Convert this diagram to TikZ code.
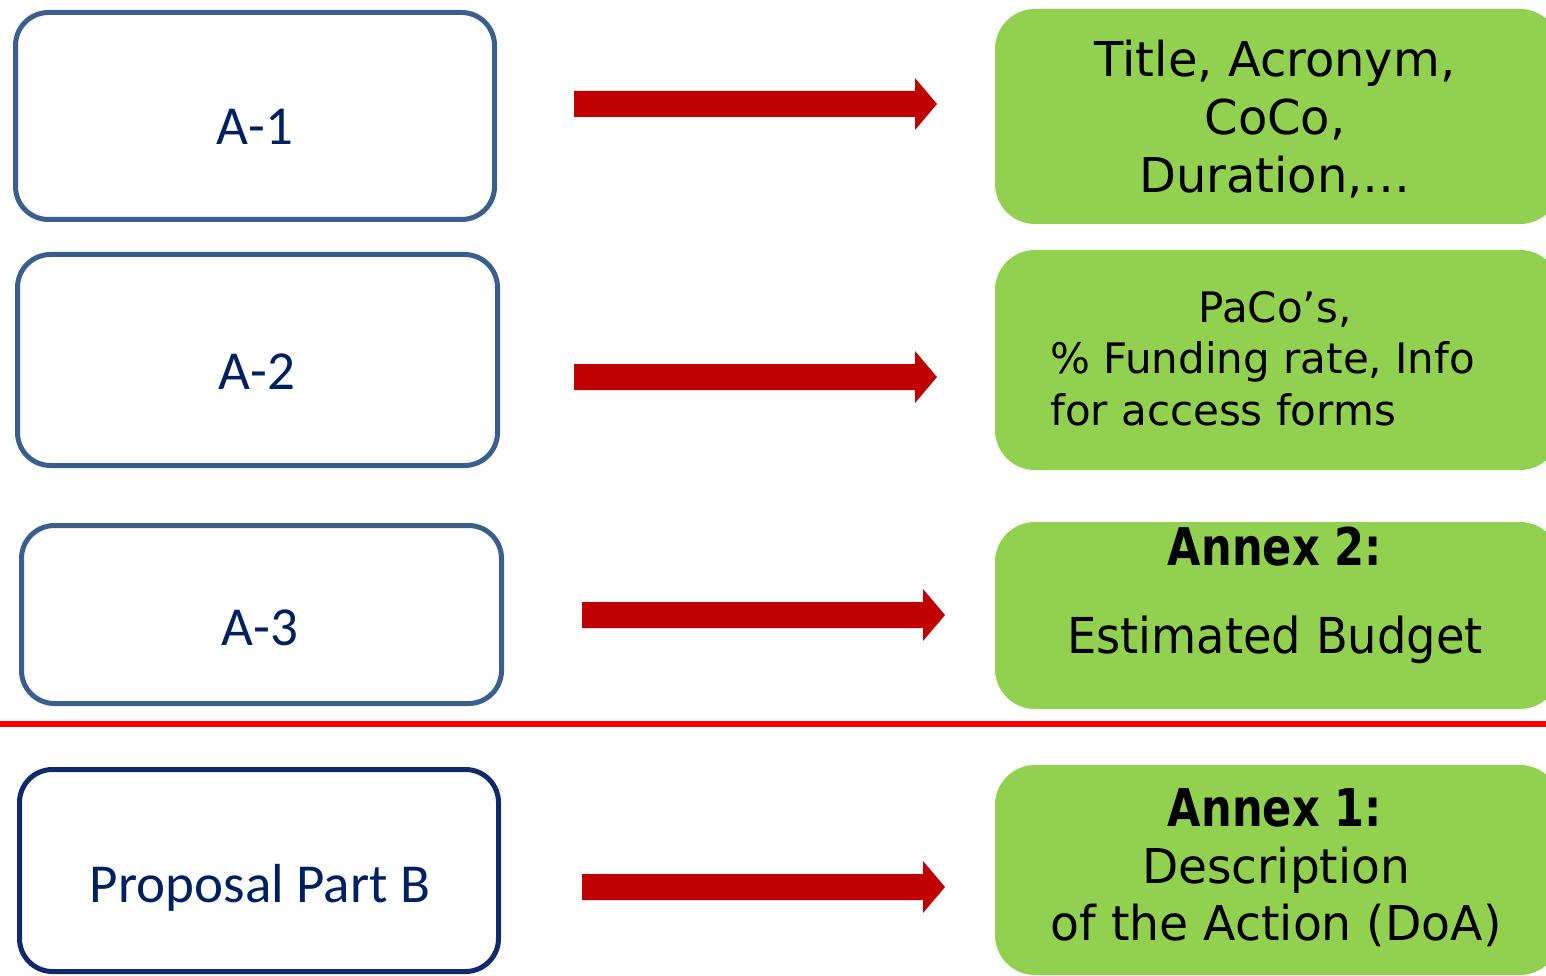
\documentclass[tikz,border=0pt]{standalone}
\usepackage{fontspec}
\usepackage{graphicx}
\setmainfont{DejaVu Sans}
\newfontfamily\boxfont{Carlito}
\usetikzlibrary{calc}
\definecolor{boxblue}{HTML}{3B5F8C}
\definecolor{boxnavy}{HTML}{10296A}
\definecolor{txtnavy}{HTML}{002060}
\definecolor{leafgreen}{HTML}{92D050}
\definecolor{arrowred}{HTML}{C00000}
\definecolor{linered}{HTML}{FF0000}
\newcommand\blockarrow[2]{%
  \fill[arrowred] ($(#1)+(0,-13)$) -- ($(#2)+(-22,-13)$) -- ($(#2)+(-22,-26)$) -- (#2)
    -- ($(#2)+(-22,26)$) -- ($(#2)+(-22,13)$) -- ($(#1)+(0,13)$) -- cycle;}
\begin{document}
\begin{tikzpicture}[x=1pt,y=-1pt,
  srcbox/.style={draw=boxblue, line width=5pt, rounded corners=33pt, fill=white, inner sep=0pt},
  srctext/.style={font=\boxfont\fontsize{55pt}{66pt}\selectfont, text=txtnavy, inner sep=0pt, anchor=base},
  greenbox/.style={fill=leafgreen, rounded corners=40pt, inner sep=0pt, minimum width=565pt},
  gtextA/.style={font=\fontsize{48pt}{57pt}\selectfont, text=black, inner sep=0pt, anchor=base},
  gtextB/.style={font=\fontsize{42pt}{52pt}\selectfont, text=black, inner sep=0pt},
  gtextC/.style={font=\fontsize{49.5pt}{57pt}\selectfont, text=black, inner sep=0pt, anchor=base},
  gbold/.style={font=\bfseries\fontsize{52pt}{57pt}\selectfont, text=black, inner sep=0pt, anchor=base}
]
\useasboundingbox (0,0) rectangle (1546,976);
\clip (0,0) rectangle (1546,976);

% left boxes
\node[srcbox, minimum width=479pt, minimum height=207pt] (a1) at (255,116) {};
\node[srcbox, minimum width=480pt, minimum height=211pt] (a2) at (257.5,360) {};
\node[srcbox, minimum width=480pt, minimum height=178pt] (a3) at (261.5,614.5) {};
\node[srcbox, draw=boxnavy, minimum width=479pt, minimum height=202pt] (pb) at (259,870.5) {};
\node[srctext] (a1t) at (255,145) {A-1};
\node[srctext] (a2t) at (257,389) {A-2};
\node[srctext] (a3t) at (260,645) {A-3};
\node[srctext] (pbt) at (260,902) {Proposal Part B};

% green boxes
\node[greenbox, minimum height=215pt] (g1) at (1277.5,116.5) {};
\node[greenbox, minimum height=220pt] (g2) at (1277.5,360) {};
\node[greenbox, minimum height=187pt] (g3) at (1277.5,615.5) {};
\node[greenbox, minimum height=210pt] (g4) at (1277.5,870) {};

\node[gtextA] (g1l1) at (1275,77) {Title, Acronym,};
\node[gtextA] (g1l2) at (1275,135) {CoCo,};
\node[gtextA] (g1l3) at (1275,193) {Duration,…};

\node[gtextB, anchor=base] (g2l1) at (1275,322) {PaCo’s,};
\node[gtextB, anchor=base west] (g2l2) at (1050,373) {\% Funding rate, Info};
\node[gtextB, anchor=base west] (g2l3) at (1050,425) {for access forms};

\node[gbold] (g3l1) at (1275,565) {\scalebox{0.83}[1]{Annex 2:}};
\node[gtextC] (g3l2) at (1275,653) {\scalebox{0.937}[1]{Estimated Budget}};

\node[gbold] (g4l1) at (1275,826) {\scalebox{0.83}[1]{Annex 1:}};
\node[gtextA] (g4l2) at (1276,883) {\scalebox{0.98}[1]{Description}};
\node[gtextA] (g4l3) at (1276,940) {\scalebox{0.985}[1]{of the Action (DoA)}};

% arrows
\coordinate (s1) at (574,104); \coordinate (e1) at (937,104);
\coordinate (s2) at (574,377); \coordinate (e2) at (937,377);
\coordinate (s3) at (582,615); \coordinate (e3) at (945,615);
\coordinate (s4) at (582,887); \coordinate (e4) at (945,887);
\blockarrow{s1}{e1}
\blockarrow{s2}{e2}
\blockarrow{s3}{e3}
\blockarrow{s4}{e4}

% separator
\coordinate (l0) at (0,724); \coordinate (l1) at (1546,724);
\draw[linered, line width=6pt] (l0) -- (l1);
\end{tikzpicture}
\end{document}
